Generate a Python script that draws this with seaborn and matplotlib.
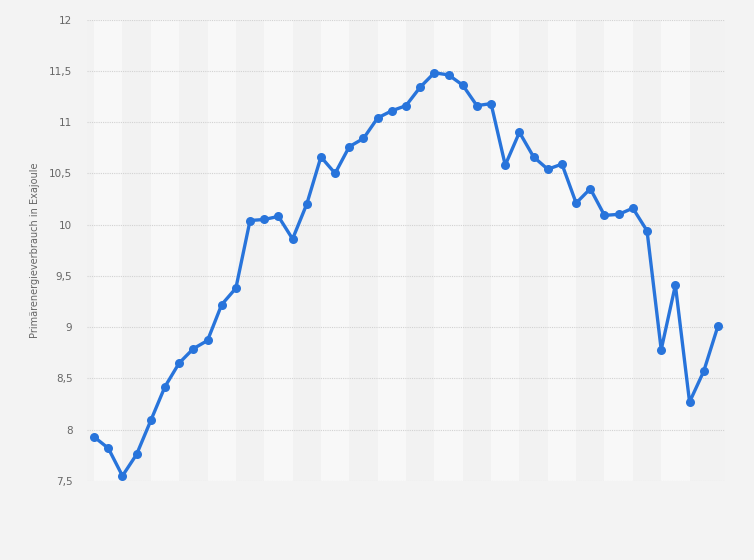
import matplotlib
matplotlib.use('Agg')

import matplotlib.pyplot as plt
import numpy as np
import pandas as pd
import seaborn as sns

# values (Exajoule), one per year, no x labels shown
values = [
	7.93, 7.82, 7.55, 7.76, 8.09, 8.42, 8.65, 8.79, 8.87, 9.22,
	9.38, 10.04, 10.05, 10.08, 9.86, 10.20, 10.66, 10.50, 10.76, 10.84,
	11.04, 11.11, 11.16, 11.34, 11.48, 11.46, 11.36, 11.16, 11.18, 10.58,
	10.90, 10.66, 10.54, 10.59, 10.21, 10.35, 10.09, 10.10, 10.16, 9.94,
	8.78, 9.41, 8.27, 8.57, 9.01,
]
y_ticks = [7.5, 8, 8.5, 9, 9.5, 10, 10.5, 11, 11.5, 12]
y_label = 'Primärenergieverbrauch in Exajoule'

df = pd.DataFrame({'idx': np.arange(len(values)), 'value': values})

sns.set_theme(style='white')
plt.rcParams['font.family'] = ['DejaVu Sans']

fig = plt.figure(figsize=(7.54, 5.6), dpi=100, facecolor='#f3f3f3')
ax = fig.add_axes([87 / 754, 1 - 481 / 560, (725 - 87) / 754, (481 - 19.5) / 560])
ax.set_facecolor('#f2f2f2')

# alternating background bands
for start in range(0, len(values) - 2, 4):
	ax.axvspan(start, start + 2, color='#f8f8f8', lw=0, zorder=0)

# dotted horizontal grid
for t in y_ticks:
	ax.axhline(t, color='#d2d2d2', lw=0.8, ls=(0, (1, 1)), zorder=1)

sns.lineplot(data=df, x='idx', y='value', ax=ax, color='#2874db',
	linewidth=2.4, marker='o', markersize=6.5, markeredgewidth=0, zorder=3)

ax.set_xlim(-0.5, len(values) - 0.5)
ax.set_ylim(7.5, 12)
ax.set_xticks([])
ax.set_yticks(y_ticks)
ax.set_yticklabels([('%g' % t).replace('.', ',') for t in y_ticks],
	color='#666666', fontsize=7.5)
ax.tick_params(axis='y', length=0, pad=10.5)
ax.set_xlabel('')
ax.set_ylabel(y_label, color='#666666', fontsize=7, labelpad=6.5)

for side in ax.spines.values():
	side.set_visible(False)

fig.savefig('out.png', dpi=100, facecolor=fig.get_facecolor())
plt.close(fig)
